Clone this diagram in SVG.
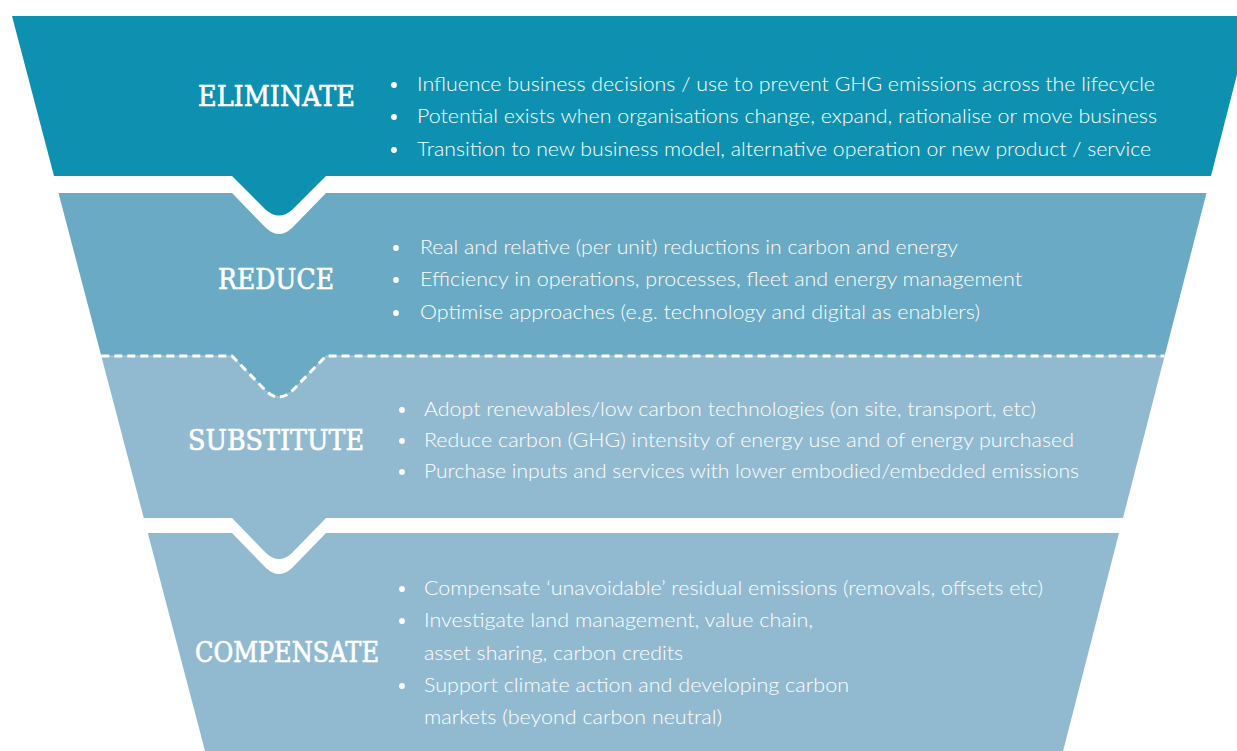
<svg xmlns="http://www.w3.org/2000/svg" width="1237" height="751" viewBox="0 0 1237 751">
<style>
.hd{font-family:"DejaVu Serif","Liberation Serif",serif;font-size:28.5px;fill:#ffffff;stroke:#ffffff;stroke-width:0.7px;}
.bt{font-family:Lato,"Open Sans","Liberation Sans",sans-serif;font-weight:300;font-size:20px;fill:#ffffff;}
.bl{fill:#ffffff;}
</style>
<rect width="1237" height="751" fill="#ffffff"/>
<g id="compensate">
<path d="M147.8,533 L232,533 L266,568 Q279,580 292,568 L326,533 L1119,533 L1060.8,760 L207.4,760 Z" fill="#91bad1"/>
<text class="hd" x="195" y="662" textLength="184" lengthAdjust="spacingAndGlyphs">COMPENSATE</text>
<circle class="bl" cx="402" cy="589" r="2.9"/>
<text class="bt" x="424" y="595" textLength="619" lengthAdjust="spacingAndGlyphs">Compensate ‘unavoidable’ residual emissions (removals, offsets etc)</text>
<circle class="bl" cx="402" cy="621" r="2.9"/>
<text class="bt" x="424" y="627" textLength="389" lengthAdjust="spacingAndGlyphs">Investigate land management, value chain,</text>
<text class="bt" x="424" y="660" textLength="259" lengthAdjust="spacingAndGlyphs">asset sharing, carbon credits</text>
<circle class="bl" cx="402" cy="686" r="2.9"/>
<text class="bt" x="424" y="692" textLength="425" lengthAdjust="spacingAndGlyphs">Support climate action and developing carbon</text>
<text class="bt" x="424" y="724" textLength="298" lengthAdjust="spacingAndGlyphs">markets (beyond carbon neutral)</text>
</g>
<g id="substitute">
<path d="M101.3,356 L1164.6,356 L1123,518 L326,518 L292,553 Q279,565 266,553 L232,518 L143.8,518 Z" fill="#91bad1"/>
<text class="hd" x="188" y="450" textLength="176" lengthAdjust="spacingAndGlyphs">SUBSTITUTE</text>
<circle class="bl" cx="402" cy="410" r="2.9"/>
<text class="bt" x="424" y="416" textLength="612" lengthAdjust="spacingAndGlyphs">Adopt renewables/low carbon technologies (on site, transport, etc)</text>
<circle class="bl" cx="402" cy="441" r="2.9"/>
<text class="bt" x="424" y="447" textLength="650" lengthAdjust="spacingAndGlyphs">Reduce carbon (GHG) intensity of energy use and of energy purchased</text>
<circle class="bl" cx="402" cy="472" r="2.9"/>
<text class="bt" x="424" y="478" textLength="655" lengthAdjust="spacingAndGlyphs">Purchase inputs and services with lower embodied/embedded emissions</text>
</g>
<g id="reduce">
<path d="M58.5,193 L232,193 L266,228 Q279,240 292,228 L326,193 L1206.5,193 L1164.6,356 L326,356 L292,391 Q279,403 266,391 L232,356 L101.3,356 Z" fill="#6aaac4"/>
<text class="hd" x="218" y="289" textLength="116" lengthAdjust="spacingAndGlyphs">REDUCE</text>
<circle class="bl" cx="396" cy="248" r="2.9"/>
<text class="bt" x="420" y="254" textLength="538" lengthAdjust="spacingAndGlyphs">Real and relative (per unit) reductions in carbon and energy</text>
<circle class="bl" cx="396" cy="280" r="2.9"/>
<text class="bt" x="420" y="286" textLength="602" lengthAdjust="spacingAndGlyphs">Efficiency in operations, processes, fleet and energy management</text>
<circle class="bl" cx="396" cy="313" r="2.9"/>
<text class="bt" x="420" y="319" textLength="560" lengthAdjust="spacingAndGlyphs">Optimise approaches (e.g. technology and digital as enablers)</text>
</g>
<g id="eliminate">
<path d="M12,16 L1252,16 L1211,176 L326,176 L292,210 Q279,221 266,210 L232,176 L54,176 Z" fill="#0e91b1"/>
<text class="hd" x="198" y="106" textLength="157" lengthAdjust="spacingAndGlyphs">ELIMINATE</text>
<circle class="bl" cx="394" cy="85" r="2.9"/>
<text class="bt" x="417" y="91" textLength="738" lengthAdjust="spacingAndGlyphs">Influence business decisions / use to prevent GHG emissions across the lifecycle</text>
<circle class="bl" cx="394" cy="117" r="2.9"/>
<text class="bt" x="417" y="123" textLength="740" lengthAdjust="spacingAndGlyphs">Potential exists when organisations change, expand, rationalise or move business</text>
<circle class="bl" cx="394" cy="150" r="2.9"/>
<text class="bt" x="417" y="156" textLength="734" lengthAdjust="spacingAndGlyphs">Transition to new business model, alternative operation or new product / service</text>
</g>
<g id="connectors">
<path d="M101.3,356 L232,356 L266,391 Q279,403 292,391 L326,356 L1164.6,356" fill="none" stroke="#ffffff" stroke-opacity="0.35" stroke-width="1"/>
<path d="M101.3,356 L232,356 L266,391 Q279,403 292,391 L326,356 L1164.6,356" fill="none" stroke="#ffffff" stroke-width="3" stroke-dasharray="8,5"/>
</g>
</svg>
